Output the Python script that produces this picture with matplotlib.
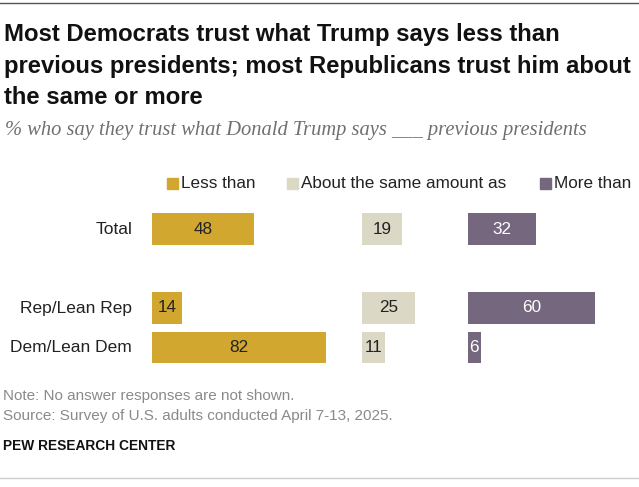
import matplotlib
matplotlib.use("Agg")
import matplotlib.pyplot as plt
from matplotlib.patches import Rectangle
from matplotlib.lines import Line2D

groups = ["Total", "Rep/Lean Rep", "Dem/Lean Dem"]
less_than = [48, 14, 82]
about_same = [19, 25, 11]
more_than = [32, 60, 6]
series_names = ["Less than", "About the same amount as", "More than"]

title_lines = ["Most Democrats trust what Trump says less than",
               "previous presidents; most Republicans trust him about",
               "the same or more"]
subtitle = "% who say they trust what Donald Trump says ___ previous presidents"
note = "Note: No answer responses are not shown."
source = "Source: Survey of U.S. adults conducted April 7-13, 2025."
credit = "PEW RESEARCH CENTER"

colors = ["#D1A730", "#DCD8C6", "#75677E"]
text_colors = ["#222222", "#222222", "#FFFFFF"]
offsets = [0, 99, 149]
ypos = [0, 2, 3]

W, H = 639, 487
fig = plt.figure(figsize=(W / 100, H / 100), dpi=100)
sans = ["Liberation Sans", "DejaVu Sans"]

# axes placed in pixel space: x from 152px, 2.12 px per point
ax_l, ax_r, ax_t, ax_b = 152, 630, 200, 380
ax = fig.add_axes([ax_l / W, 1 - ax_b / H, (ax_r - ax_l) / W, (ax_b - ax_t) / H])
ax.set_xlim(0, (ax_r - ax_l) / 2.12)
unit = 39.5
ax.set_ylim((ax_b - 229) / unit, (ax_t - 229) / unit)
ax.axis("off")

for vals, off, c, tc in zip([less_than, about_same, more_than], offsets, colors, text_colors):
    ax.barh(ypos, vals, left=off, height=0.81, color=c, edgecolor="none")
    for y, v in zip(ypos, vals):
        ax.text(off + v / 2, y, str(v), ha="center", va="center",
                fontsize=12.3, color=tc, family=sans)

for y, g in zip(ypos, groups):
    ax.text(-20 / 2.12, y, g, ha="right", va="center", fontsize=12.5,
            color="#222222", family=sans)

# legend
leg_x = [167, 287, 540]
for x, name, c in zip(leg_x, series_names, colors):
    fig.patches.append(Rectangle((x / W, 1 - 189 / H), 11 / W, 11 / H,
                                 transform=fig.transFigure, color=c))
    fig.text((x + 14) / W, 1 - 183.5 / H, name, ha="left", va="center",
             fontsize=12.3, color="#222222", family=sans)

for i, line in enumerate(title_lines):
    fig.text(4 / W, 1 - (35 + 31.5 * i) / H, line, ha="left", va="center",
             fontsize=17.2, fontweight="bold", color="#111111", family=sans)
fig.text(5 / W, 1 - 131 / H, subtitle, ha="left", va="center", fontsize=14.8,
         style="italic", color="#707070", family=["Liberation Serif", "DejaVu Serif"])
fig.text(3 / W, 1 - 396 / H, note, ha="left", va="center", fontsize=11,
         color="#8A8A8A", family=sans)
fig.text(3 / W, 1 - 416 / H, source, ha="left", va="center", fontsize=11,
         color="#8A8A8A", family=sans)
fig.text(3 / W, 1 - 446 / H, credit, ha="left", va="center", fontsize=9.9,
         fontweight="bold", color="#111111", family=sans)

fig.add_artist(Line2D([0, 1], [1 - 3 / H, 1 - 3 / H], transform=fig.transFigure,
                      color="#555555", lw=1))
fig.add_artist(Line2D([0, 1], [1 - 478 / H, 1 - 478 / H], transform=fig.transFigure,
                      color="#CCCCCC", lw=1))

fig.savefig("out.png", dpi=100)
